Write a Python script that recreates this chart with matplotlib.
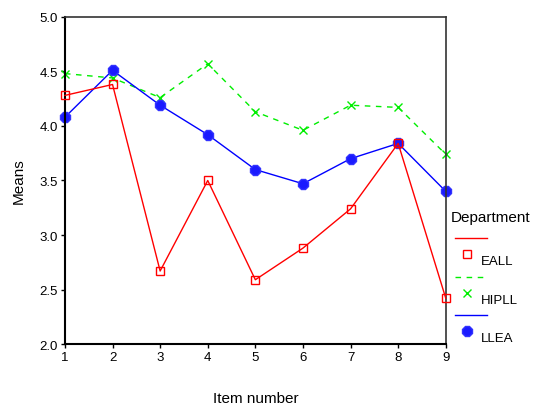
import matplotlib.pyplot as plt
from matplotlib.lines import Line2D

plt.rcParams['font.family'] = ['Liberation Sans', 'DejaVu Sans']

items = [1, 2, 3, 4, 5, 6, 7, 8, 9]
eall = [4.28, 4.38, 2.67, 3.50, 2.59, 2.88, 3.24, 3.84, 2.42]
hipll = [4.48, 4.44, 4.26, 4.57, 4.13, 3.96, 4.19, 4.17, 3.74]
llea = [4.08, 4.51, 4.19, 3.92, 3.60, 3.47, 3.70, 3.84, 3.40]
yticks = [2.0, 2.5, 3.0, 3.5, 4.0, 4.5, 5.0]

fig = plt.figure(figsize=(5.41, 4.06), dpi=100)
ax = fig.add_axes([0.120, 0.150, 0.704, 0.806])

ax.plot(items, eall, color='red', lw=1, marker='s', ms=6, mfc='none', mec='red', mew=1, clip_on=False, zorder=3)
ax.plot(items, hipll, color='#00ee00', lw=1, ls=(0, (4, 4)), marker='x', ms=6, mec='#00ee00', mew=1, clip_on=False, zorder=2)
ax.plot(items, llea, color='blue', lw=1, marker='8', ms=7.5, mfc='#1a1aff', mec='#3333ff', clip_on=False, zorder=2)

ax.set_xlim(1, 9)
ax.set_ylim(2.0, 5.0)
ax.set_xticks(items)
ax.set_yticks(yticks)
ax.set_yticklabels([f'{v:.1f}' for v in yticks])
ax.tick_params(direction='out', length=3, width=1, labelsize=9.5, pad=2)

for s in ['left', 'bottom']:
    ax.spines[s].set_linewidth(1.5)
for s in ['top', 'right']:
    ax.spines[s].set_linewidth(1.2)
    ax.spines[s].set_color('#333333')

ax.set_xlabel('Item number', fontsize=11, labelpad=20)
ax.set_ylabel('Means', fontsize=11, labelpad=10)

# custom legend on the right side
fig.text(451 / 541, 1 - 218 / 406, 'Department', fontsize=11, va='center', ha='left')
legend = [('EALL', 'red', '-', 's', 239), ('HIPLL', '#00ee00', (0, (4, 4)), 'x', 278), ('LLEA', 'blue', '-', '8', 316)]
for name, col, ls, mk, y in legend:
    fig.add_artist(Line2D([455 / 541, 487 / 541], [1 - y / 406] * 2, color=col, lw=1, ls=ls))
    if mk == 's':
        m = Line2D([467 / 541], [1 - (y + 16) / 406], marker='s', ms=6, mfc='none', mec=col, mew=1, ls='none')
    elif mk == 'x':
        m = Line2D([467 / 541], [1 - (y + 16) / 406], marker='x', ms=6, mec=col, mew=1, ls='none')
    else:
        m = Line2D([467 / 541], [1 - (y + 16) / 406], marker='8', ms=7.5, mfc='#1a1aff', mec='#3333ff', ls='none')
    fig.add_artist(m)
    fig.text(481 / 541, 1 - (y + 23) / 406, name, fontsize=9.5, va='center', ha='left')

fig.savefig('out.png', dpi=100)
